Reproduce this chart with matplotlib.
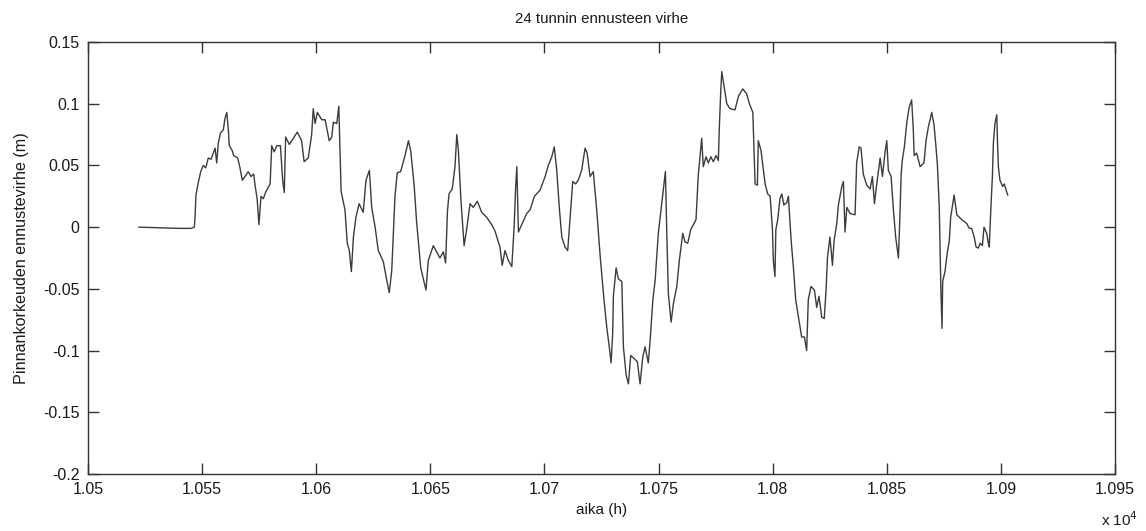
"""24 tunnin ennusteen virhe - MATLAB-tyylinen viivakaavio."""

import matplotlib

matplotlib.use("Agg")
import matplotlib.pyplot as plt
import numpy as np

# ── data (luettu kuvasta) ─────────────────────────────────────────────
aika = [
    10522.3, 10539.9, 10545.1, 10546.6, 10546.9, 10547.3, 10548.3, 10549.4, 10550.5, 10551.6,
    10552.7, 10553.9, 10555.1, 10555.7, 10556.4, 10557.1, 10558.0, 10559.3, 10560.0, 10560.8,
    10561.5, 10561.9, 10563.2, 10563.8, 10565.6, 10566.6, 10567.6, 10568.8, 10570.2, 10571.4,
    10572.6, 10573.2, 10574.1, 10574.9, 10575.8, 10576.8, 10578.0, 10579.8, 10580.5, 10581.6,
    10582.7, 10584.3, 10585.3, 10586.0, 10586.6, 10588.2, 10590.0, 10591.7, 10593.6, 10594.7,
    10596.5, 10598.0, 10598.7, 10599.5, 10600.5, 10602.4, 10603.9, 10605.7, 10606.8, 10607.5,
    10609.0, 10609.9, 10610.4, 10610.9, 10612.6, 10613.6, 10614.5, 10615.4, 10616.3, 10617.4,
    10618.8, 10620.6, 10621.8, 10623.3, 10624.3, 10625.8, 10627.2, 10629.4, 10630.9, 10632.0,
    10633.1, 10634.5, 10635.5, 10637.0, 10638.9, 10640.4, 10641.4, 10642.9, 10644.0, 10645.8,
    10648.1, 10649.1, 10651.3, 10654.2, 10655.7, 10656.7, 10657.5, 10658.2, 10659.6, 10660.8,
    10661.6, 10662.3, 10663.4, 10664.8, 10665.9, 10667.4, 10668.8, 10670.6, 10672.5, 10674.7,
    10676.9, 10678.3, 10680.5, 10681.5, 10682.7, 10684.2, 10685.7, 10686.7, 10687.4, 10687.9,
    10688.6, 10690.3, 10692.2, 10693.7, 10695.6, 10698.1, 10700.3, 10701.7, 10703.2, 10704.3,
    10705.4, 10706.5, 10707.6, 10709.0, 10710.2, 10711.2, 10712.4, 10713.7, 10714.8, 10716.3,
    10717.8, 10718.7, 10720.0, 10721.4, 10722.9, 10724.4, 10726.1, 10727.3, 10728.4, 10729.2,
    10729.9, 10730.2, 10731.4, 10732.4, 10733.9, 10734.6, 10735.8, 10736.8, 10737.8, 10739.0,
    10740.7, 10741.9, 10743.1, 10744.1, 10745.5, 10746.3, 10747.5, 10748.5, 10749.9, 10751.4,
    10752.1, 10753.0, 10753.6, 10754.3, 10755.5, 10756.5, 10758.0, 10759.1, 10760.6, 10761.6,
    10762.8, 10764.1, 10766.4, 10767.4, 10768.2, 10768.9, 10769.6, 10770.8, 10771.8, 10772.9,
    10774.0, 10775.2, 10776.2, 10776.6, 10777.2, 10777.7, 10778.7, 10779.9, 10781.3, 10783.5,
    10785.0, 10786.9, 10788.6, 10789.8, 10791.3, 10791.8, 10792.3, 10793.3, 10793.7, 10794.9,
    10796.7, 10797.8, 10798.9, 10799.9, 10800.3, 10801.0, 10801.4, 10802.2, 10803.2, 10804.0,
    10804.9, 10806.2, 10806.9, 10808.1, 10809.1, 10810.1, 10811.3, 10812.7, 10813.9, 10814.9,
    10815.6, 10816.8, 10818.3, 10819.3, 10820.3, 10821.5, 10822.6, 10823.4, 10824.0, 10825.1,
    10826.2, 10826.9, 10828.1, 10828.8, 10830.3, 10831.0, 10831.7, 10832.5, 10833.9, 10836.1,
    10836.8, 10837.9, 10838.7, 10839.7, 10841.2, 10842.7, 10843.7, 10844.6, 10845.6, 10847.1,
    10848.1, 10849.2, 10850.0, 10850.7, 10851.9, 10852.9, 10853.9, 10855.1, 10855.7, 10856.3,
    10856.8, 10857.7, 10858.8, 10859.8, 10860.9, 10861.6, 10862.0, 10863.1, 10864.6, 10866.3,
    10867.2, 10868.2, 10869.7, 10870.7, 10871.6, 10872.2, 10873.0, 10873.7, 10874.2, 10874.5,
    10875.5, 10876.5, 10877.4, 10878.0, 10878.9, 10879.5, 10880.7, 10882.9, 10885.0, 10886.2,
    10887.2, 10888.3, 10889.1, 10890.1, 10890.9, 10891.9, 10892.6, 10893.8, 10894.5, 10894.9,
    10895.6, 10896.3, 10896.7, 10897.4, 10898.2, 10898.5, 10898.9, 10899.6, 10900.8, 10901.5,
    10902.3, 10903.0,
]
virhe = [
    0.000, -0.001, -0.001, 0.000, 0.008, 0.026, 0.036, 0.045, 0.050, 0.048,
    0.056, 0.055, 0.061, 0.064, 0.052, 0.068, 0.076, 0.079, 0.088, 0.093,
    0.079, 0.066, 0.062, 0.058, 0.056, 0.048, 0.038, 0.041, 0.045, 0.041,
    0.043, 0.034, 0.023, 0.002, 0.025, 0.023, 0.029, 0.035, 0.066, 0.061,
    0.066, 0.066, 0.038, 0.028, 0.073, 0.067, 0.072, 0.077, 0.070, 0.053,
    0.056, 0.075, 0.096, 0.084, 0.093, 0.087, 0.087, 0.070, 0.073, 0.085,
    0.084, 0.098, 0.064, 0.029, 0.014, -0.013, -0.019, -0.036, -0.008, 0.008,
    0.019, 0.012, 0.038, 0.046, 0.016, 0.000, -0.019, -0.028, -0.043, -0.053,
    -0.035, 0.025, 0.044, 0.045, 0.058, 0.070, 0.062, 0.034, 0.004, -0.033,
    -0.051, -0.027, -0.015, -0.025, -0.020, -0.029, 0.013, 0.027, 0.031, 0.049,
    0.075, 0.062, 0.022, -0.015, -0.002, 0.019, 0.016, 0.021, 0.012, 0.008,
    0.002, -0.003, -0.016, -0.031, -0.019, -0.027, -0.032, 0.000, 0.033, 0.049,
    -0.004, 0.003, 0.011, 0.014, 0.025, 0.030, 0.041, 0.050, 0.057, 0.065,
    0.046, 0.016, -0.008, -0.016, -0.019, 0.006, 0.037, 0.035, 0.038, 0.046,
    0.064, 0.060, 0.041, 0.045, 0.014, -0.023, -0.059, -0.081, -0.097, -0.110,
    -0.086, -0.056, -0.033, -0.042, -0.044, -0.097, -0.120, -0.127, -0.104, -0.106,
    -0.109, -0.127, -0.105, -0.097, -0.110, -0.092, -0.059, -0.043, -0.005, 0.019,
    0.030, 0.045, -0.004, -0.054, -0.077, -0.062, -0.048, -0.027, -0.005, -0.012,
    -0.013, -0.002, 0.006, 0.042, 0.058, 0.072, 0.049, 0.057, 0.052, 0.057,
    0.053, 0.058, 0.054, 0.079, 0.108, 0.126, 0.114, 0.100, 0.096, 0.095,
    0.106, 0.112, 0.108, 0.100, 0.093, 0.064, 0.035, 0.034, 0.070, 0.062,
    0.035, 0.027, 0.025, -0.002, -0.027, -0.040, -0.002, 0.006, 0.023, 0.027,
    0.018, 0.020, 0.025, -0.011, -0.033, -0.059, -0.073, -0.089, -0.089, -0.100,
    -0.059, -0.048, -0.051, -0.065, -0.056, -0.073, -0.074, -0.051, -0.025, -0.008,
    -0.031, -0.011, 0.003, 0.018, 0.033, 0.037, -0.004, 0.016, 0.011, 0.010,
    0.052, 0.065, 0.064, 0.043, 0.034, 0.031, 0.041, 0.019, 0.035, 0.056,
    0.041, 0.060, 0.070, 0.046, 0.041, 0.014, -0.008, -0.025, 0.006, 0.043,
    0.054, 0.065, 0.085, 0.097, 0.103, 0.080, 0.058, 0.060, 0.049, 0.052,
    0.070, 0.081, 0.093, 0.083, 0.064, 0.050, 0.016, -0.050, -0.082, -0.044,
    -0.036, -0.021, -0.011, 0.008, 0.019, 0.026, 0.010, 0.006, 0.003, -0.001,
    -0.001, -0.008, -0.016, -0.017, -0.013, -0.015, 0.000, -0.005, -0.013, -0.016,
    0.015, 0.042, 0.068, 0.084, 0.091, 0.070, 0.049, 0.038, 0.033, 0.035,
    0.030, 0.026,
]

x_ticks = [10500, 10550, 10600, 10650, 10700, 10750, 10800, 10850, 10900, 10950]
y_ticks = [-0.2, -0.15, -0.1, -0.05, 0, 0.05, 0.1, 0.15]

AXIS_COLOR = "#333333"
LINE_COLOR = "#3c3c3c"
TEXT_COLOR = "#1a1a1a"

plt.rcParams["font.family"] = ["Liberation Sans", "DejaVu Sans"]

fig = plt.figure(figsize=(11.46, 5.31), dpi=100)
ax = fig.add_axes([88 / 1146, 1 - 474 / 531, (1115 - 88) / 1146, (474 - 42) / 531])

ax.plot(aika, virhe, color=LINE_COLOR, lw=1.0)

ax.set_xlim(10500, 10950)
ax.set_ylim(-0.2, 0.15)
ax.set_xticks(x_ticks)
ax.set_xticklabels([f"{t / 1e4:g}" for t in x_ticks])
ax.set_yticks(y_ticks)
ax.set_yticklabels([f"{v:g}" for v in y_ticks])

ax.tick_params(direction="in", length=8, width=1, colors=AXIS_COLOR,
               labelcolor=TEXT_COLOR, top=True, right=True, labelsize=11.5)
ax.tick_params(axis="x", pad=6)
ax.tick_params(axis="y", pad=6)
for sp in ax.spines.values():
    sp.set_color(AXIS_COLOR)
    sp.set_linewidth(1.0)

ax.set_title("24 tunnin ennusteen virhe", fontsize=10.8, color=TEXT_COLOR, pad=14)
ax.set_xlabel("aika (h)", fontsize=11, color=TEXT_COLOR, labelpad=4)
ax.set_ylabel("Pinnankorkeuden ennustevirhe (m)", fontsize=11.6, color=TEXT_COLOR, labelpad=10)

fig.text(1120 / 1146, 1 - 520 / 531, r"x 10$^{4}$", fontsize=11, color=TEXT_COLOR,
         ha="center", va="center")

fig.savefig("out.png", dpi=100, facecolor="white")
